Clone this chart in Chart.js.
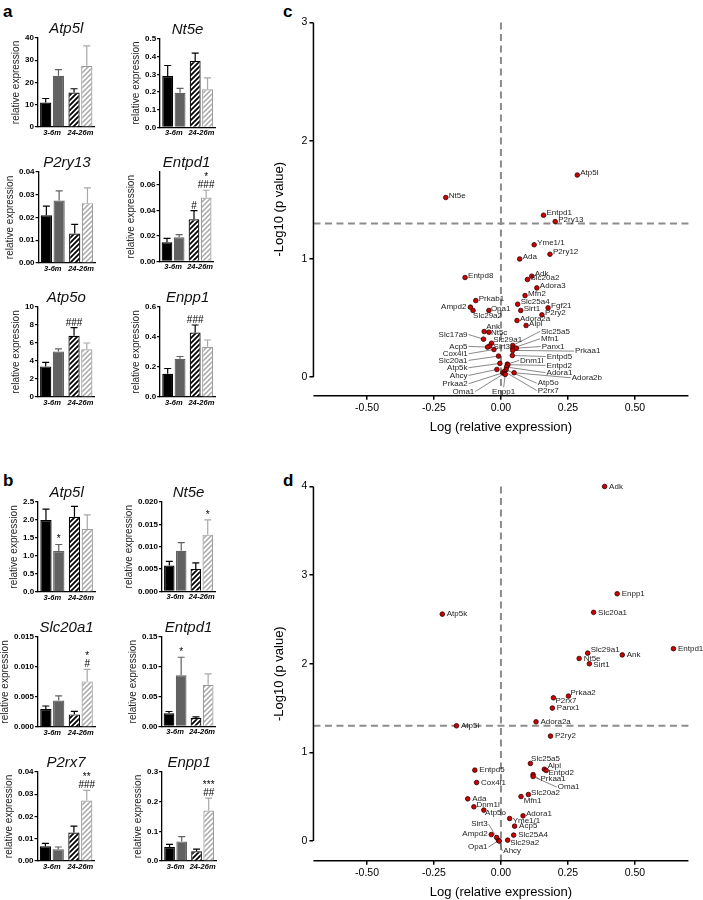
<!DOCTYPE html>
<html>
<head>
<meta charset="utf-8">
<script src="https://cdn.jsdelivr.net/npm/chart.js@4.4.0/dist/chart.umd.min.js"></script>
<style>
  html, body { margin: 0; padding: 0; background: #fff; overflow: hidden; }
  #fig { position: relative; width: 703px; height: 900px; font-family: "Liberation Sans", Arial, sans-serif; }
  #fig canvas { position: absolute; }
  .tag { position: absolute; font-weight: bold; font-size: 17px; color: #000; line-height: 1; }
</style>
</head>
<body>
<div id="fig">
  <div class="tag" style="left:3px;top:3px">a</div>
  <div class="tag" style="left:3px;top:472px">b</div>
  <div class="tag" style="left:283px;top:3px">c</div>
  <div class="tag" style="left:283px;top:472px">d</div>
</div>
<script>
const FONT = '"Liberation Sans", Arial, sans-serif';
Chart.defaults.font.family = FONT;
Chart.defaults.color = '#000';

// ---- bar panels: order of bars = [3-6m ctrl, 3-6m treated, 24-26m ctrl, 24-26m treated]
const ageGroups = ['3-6m', '24-26m'];

const aGenes = ['Atp5l', 'Nt5e', 'P2ry13', 'Entpd1', 'Atp5o', 'Enpp1'];
const aMeans = [
  [11, 23, 15.5, 27.5],
  [0.29, 0.195, 0.375, 0.215],
  [0.021, 0.0275, 0.013, 0.0263],
  [0.015, 0.019, 0.033, 0.050],
  [3.4, 5.05, 6.8, 5.3],
  [0.155, 0.255, 0.43, 0.335]
];
const aSem = [
  [1.8, 2.8, 1.7, 9],
  [0.06, 0.025, 0.045, 0.065],
  [0.004, 0.0042, 0.004, 0.0067],
  [0.003, 0.002, 0.0067, 0.0057],
  [0.45, 0.3, 0.9, 0.7],
  [0.035, 0.015, 0.05, 0.045]
];
const aMarks = [
  ['', '', '', ''], ['', '', '', ''], ['', '', '', ''],
  ['', '', '#', '*\n###'], ['', '', '###', ''], ['', '', '###', '']
];
const aYMax = [40, 0.5, 0.04, 0.07, 10, 0.6];
const aYStep = [10, 0.1, 0.01, 0.02, 2, 0.2];
const aYDec = [0, 1, 2, 2, 0, 1];

const bGenes = ['Atp5l', 'Nt5e', 'Slc20a1', 'Entpd1', 'P2rx7', 'Enpp1'];
const bMeans = [
  [2.0, 1.14, 2.09, 1.75],
  [0.0058, 0.0091, 0.0050, 0.0127],
  [0.0030, 0.0044, 0.0021, 0.0076],
  [0.022, 0.086, 0.014, 0.070],
  [0.0066, 0.0053, 0.0128, 0.0272],
  [0.047, 0.066, 0.033, 0.17]
];
const bSem = [
  [0.3, 0.18, 0.29, 0.39],
  [0.0009, 0.0018, 0.0014, 0.0033],
  [0.0005, 0.0008, 0.0005, 0.002],
  [0.003, 0.03, 0.002, 0.018],
  [0.0013, 0.001, 0.0029, 0.0045],
  [0.009, 0.016, 0.007, 0.042]
];
const bMarks = [
  ['', '*', '', ''], ['', '', '', '*'], ['', '', '', '*\n#'],
  ['', '*', '', ''], ['', '', '', '**\n###'], ['', '', '', '***\n##']
];
const bYMax = [2.5, 0.02, 0.015, 0.15, 0.04, 0.3];
const bYStep = [0.5, 0.005, 0.005, 0.05, 0.01, 0.1];
const bYDec = [1, 3, 3, 2, 2, 1];

// ---- volcano panels
const pThreshold = 1.3;
const xTicks = [-0.5, -0.25, 0, 0.25, 0.5];

const cGenes = ['Atp5l', 'Nt5e', 'Entpd1', 'P2ry13', 'Yme1/1', 'P2ry12', 'Ada', 'Entpd8', 'Adk', 'Slc20a2',
  'Adora3', 'Mfn2', 'Prkab1', 'Slc25a4', 'Fgf21', 'Ampd2', 'Opa1', 'Slc29a2', 'Sirt1', 'P2ry2',
  'Adora2a', 'Alpl', 'Ank', 'Nt5c', 'Slc17a9', 'Slc29a1', 'Sirt3', 'Acp5', 'Cox4i1', 'Slc25a5',
  'Mfn1', 'Panx1', 'Prkaa1', 'Entpd5', 'Slc20a1', 'Dnm1l', 'Atp5k', 'Entpd2', 'Adora1', 'Ahcy',
  'Adora2b', 'Atp5o', 'Prkaa2', 'P2rx7', 'Oma1', 'Enpp1'];
const cLogFC = [0.285, -0.206, 0.159, 0.2025, 0.124, 0.183, 0.070, -0.134, 0.115, 0.099,
  0.134, 0.090, -0.094, 0.0625, 0.176, -0.114, -0.045, -0.104, 0.074, 0.153,
  0.060, 0.094, -0.0625, -0.045, -0.065, -0.035, -0.0425, -0.050, -0.026, 0.044,
  0.044, 0.0575, 0.044, 0.0425, -0.009, 0.024, -0.004, 0.026, 0.021, -0.015,
  0.049, 0.019, 0.0075, 0.0125, 0.0125, 0.016];
const cNegLogP = [1.71, 1.52, 1.37, 1.316, 1.12, 1.04, 1.00, 0.843, 0.854, 0.826,
  0.755, 0.690, 0.648, 0.617, 0.586, 0.592, 0.564, 0.564, 0.564, 0.527,
  0.479, 0.437, 0.386, 0.380, 0.321, 0.287, 0.262, 0.254, 0.234, 0.268,
  0.245, 0.245, 0.226, 0.183, 0.178, 0.110, 0.116, 0.105, 0.085, 0.065,
  0.037, 0.062, 0.037, 0.048, 0.031, 0.023];
const cYTicks = [0, 1, 2, 3];

const dGenes = ['Adk', 'Enpp1', 'Slc20a1', 'Atp5k', 'Entpd1', 'Slc29a1', 'Ank', 'Nt5e', 'Sirt1', 'Prkaa2',
  'P2rx7', 'Panx1', 'Adora2a', 'Atp5l', 'P2ry2', 'Slc25a5', 'Alpl', 'Entpd2', 'Entpd5', 'Prkaa1',
  'Oma1', 'Cox4i1', 'Slc20a2', 'Mfn1', 'Ada', 'Dnm1l', 'Atp5o', 'Adora1', 'Yme1/1', 'Acp5',
  'Slc25A4', 'Ampd2', 'Sirt3', 'Opa1', 'Slc29a2', 'Ahcy'];
const dLogFC = [0.387, 0.434, 0.346, -0.219, 0.644, 0.324, 0.453, 0.292, 0.330, 0.252,
  0.196, 0.192, 0.131, -0.166, 0.185, 0.110, 0.162, 0.169, -0.0975, 0.120,
  0.120, -0.091, 0.1025, 0.075, -0.124, -0.101, -0.064, 0.0825, 0.0325, 0.051,
  0.0475, -0.036, -0.016, -0.009, 0.025, -0.006];
const dNegLogP = [4.00, 2.79, 2.58, 2.56, 2.17, 2.12, 2.10, 2.06, 2.00, 1.635,
  1.616, 1.50, 1.345, 1.30, 1.184, 0.875, 0.81, 0.796, 0.80, 0.75,
  0.728, 0.66, 0.525, 0.502, 0.476, 0.386, 0.349, 0.284, 0.254, 0.168,
  0.067, 0.073, 0.04, 0.006, 0.01, 0.0];
const dYTicks = [0, 1, 2, 3, 4];

// label placement (pixel offset from the point, text align, leader line)
const cLabelDefault = [3, -2, 'left'];
const cLabelPos = {
  'Ampd2': [-4, 0, 'right'], 'Slc29a2': [0, 5, 'left'], 'Ank': [2, -4.5, 'left'],
  'Nt5c': [2, 1, 'left'], 'Slc29a1': [1.6, -3.4, 'left'], 'Sirt3': [4, 1, 'left'], 'Opa1': [2, -1.7, 'left'],
  'Slc17a9': [-16, -4.7, 'right', true], 'Acp5': [-20, -0.7, 'right', true], 'Cox4i1': [-26.3, 4.3, 'right', true],
  'Slc20a1': [-31, 4.3, 'right', true], 'Atp5k': [-32.3, 4.3, 'right', true], 'Ahcy': [-29.3, 6, 'right', true],
  'Prkaa2': [-35.3, 11, 'right', true], 'Oma1': [-30, 18, 'right', true], 'Enpp1': [-1.6, 17, 'center', true],
  'Slc25a5': [28.3, -14, 'left', true], 'Mfn1': [28.3, -9.4, 'left', true], 'Panx1': [25.4, -1.7, 'left', true],
  'Prkaa1': [62.3, 0.7, 'left', true], 'Entpd5': [34.4, 1, 'left', true], 'Dnm1l': [12.7, -3.7, 'left', true],
  'Entpd2': [38.7, 0.7, 'left', true], 'Adora1': [40, 5.6, 'left', true], 'Adora2b': [57.7, 5, 'left', true],
  'Atp5o': [31.7, 13.4, 'left', true], 'P2rx7': [33.4, 19, 'left', true]
};
const dLabelDefault = [4.5, 0, 'left'];
const dLabelPos = {
  'Slc29a1': [3, -3, 'left'], 'Sirt1': [4, 1.5, 'left'], 'P2rx7': [2, 3.3, 'left'], 'Prkaa2': [2, -3.3, 'left'],
  'Slc25a5': [0.7, -5, 'left'], 'Alpl': [3.4, -3.3, 'left'], 'Entpd2': [2.3, 2.6, 'left'],
  'Prkaa1': [7.3, 4.6, 'left', true], 'Oma1': [24.7, 10.6, 'left', true], 'Slc20a2': [2.7, -1.4, 'left'],
  'Mfn1': [2.7, 4, 'left'], 'Sirt3': [-9, -13.4, 'right', true], 'Ampd2': [-3.6, -0.7, 'right'],
  'Opa1': [-11, 6.6, 'right', true], 'Ahcy': [4, 10, 'left', true], 'Atp5o': [1.3, 2.4, 'left'],
  'Dnm1l': [2.7, -2.3, 'left'], 'Yme1/1': [3, 2.6, 'left'], 'Adora1': [3, -2, 'left'], 'Slc29a2': [2.6, 2.4, 'left']
};

// plot-area boxes [axis x, top, width, height]
const aBoxes = [[38.3, 38.3, 56.7, 89], [160, 39, 55, 88.3], [38.3, 172.3, 56.7, 91], [160, 172.3, 54, 89.4],
  [38.3, 306.7, 56.7, 90], [160, 306.7, 55, 90]];
const bBoxes = [[37.7, 502.3, 57, 90], [162.3, 502.3, 53, 89.4], [37.7, 637.3, 57, 90], [161.7, 637.3, 54, 89.4],
  [37.7, 771.7, 57, 89], [161.7, 771.7, 54, 89]];

const fig = document.getElementById('fig');

function hatch(color, width) {
  const t = document.createElement('canvas');
  t.width = t.height = 5;
  const g = t.getContext('2d');
  g.fillStyle = '#fff';
  g.fillRect(0, 0, 5, 5);
  g.strokeStyle = color;
  g.lineWidth = width;
  g.beginPath();
  g.moveTo(0, 5); g.lineTo(5, 0);
  g.moveTo(-1, 1); g.lineTo(1, -1);
  g.moveTo(4, 6); g.lineTo(6, 4);
  g.stroke();
  return g.createPattern(t, 'repeat');
}
const HATCH_DARK = hatch('#000', 1.8);
const HATCH_LIGHT = hatch('#a6a6a6', 1.5);
const GRAY = '#616161';

// error bars + significance marks
const errBars = {
  id: 'errBars',
  afterDatasetsDraw(chart) {
    const { ctx, scales: { y } } = chart;
    chart.data.datasets.forEach((ds, i) => {
      chart.getDatasetMeta(i).data.forEach((bar, j) => {
        const top = y.getPixelForValue(ds.data[j] + ds.sem[j]);
        ctx.save();
        ctx.strokeStyle = ds.errColor[j];
        ctx.lineWidth = 1.2;
        ctx.beginPath();
        ctx.moveTo(bar.x, bar.y); ctx.lineTo(bar.x, top);
        ctx.moveTo(bar.x - 3.5, top); ctx.lineTo(bar.x + 3.5, top);
        ctx.stroke();
        const lines = ds.marks[j] ? ds.marks[j].split('\n').reverse() : [];
        ctx.fillStyle = '#000';
        ctx.font = '10px ' + FONT;
        ctx.textAlign = 'center';
        ctx.textBaseline = 'alphabetic';
        lines.forEach((s, k) => ctx.fillText(s, bar.x, top - 2 - k * 8));
        ctx.restore();
      });
    });
  }
};

// fit the plot area to a box, then move the canvas so the area lands on it
function place(chart, pad, box, growTop) {
  for (let k = 0; k < 4; k++) {
    const a = chart.chartArea;
    pad.right += (a.right - a.left) - box[2];
    if (growTop) pad.top += (a.bottom - a.top) - box[3];
    else pad.bottom += (a.bottom - a.top) - box[3];
    chart.update('none');
  }
  const a = chart.chartArea;
  chart.canvas.style.left = (box[0] - a.left) + 'px';
  chart.canvas.style.top = (box[1] - a.top) + 'px';
}

function barChart(gene, means, sem, marks, yMax, yStep, yDec, box) {
  const cv = document.createElement('canvas');
  cv.width = 180; cv.height = 160;
  fig.appendChild(cv);
  const pad = { top: 0, right: 20, bottom: 0, left: 0 };
  const chart = new Chart(cv, {
    type: 'bar',
    data: {
      labels: ageGroups,
      datasets: [
        { data: [means[0], means[2]], sem: [sem[0], sem[2]], marks: [marks[0], marks[2]],
          backgroundColor: ['#000', HATCH_DARK], borderColor: ['#000', '#000'],
          errColor: ['#000', '#000'], borderWidth: 1.2 },
        { data: [means[1], means[3]], sem: [sem[1], sem[3]], marks: [marks[1], marks[3]],
          backgroundColor: [GRAY, HATCH_LIGHT], borderColor: [GRAY, '#9c9c9c'],
          errColor: [GRAY, '#a8a8a8'], borderWidth: 1.2 }
      ]
    },
    options: {
      responsive: false,
      animation: false,
      devicePixelRatio: 1,
      layout: { padding: pad },
      datasets: { bar: { categoryPercentage: 0.9, barPercentage: 0.88 } },
      plugins: {
        legend: { display: false },
        tooltip: { enabled: false },
        title: {
          display: true, text: gene, fullSize: false, color: '#111',
          font: { size: 15, style: 'italic', weight: 'normal' },
          padding: { top: 0, bottom: 0 }
        }
      },
      scales: {
        x: {
          grid: { display: false, drawTicks: false },
          border: { color: '#000', width: 1.3 },
          ticks: { color: '#000', padding: 1, maxRotation: 0, autoSkip: false,
                   font: { size: 7.5, weight: 'bold', style: 'italic' } }
        },
        y: {
          min: 0, max: yMax,
          afterBuildTicks: s => {
            const t = [];
            for (let k = 0; k * yStep <= yMax + 1e-9; k++) t.push({ value: +(k * yStep).toFixed(6) });
            s.ticks = t;
          },
          grid: { drawOnChartArea: false, tickLength: 3, color: '#000', lineWidth: 1.2 },
          border: { color: '#000', width: 1.3 },
          ticks: { color: '#000', padding: 1, font: { size: 8, weight: 'bold' }, callback: v => v.toFixed(yDec) },
          title: { display: true, text: 'relative expression', color: '#222', font: { size: 10 }, padding: { top: 0, bottom: 2 } }
        }
      }
    },
    plugins: [errBars]
  });
  place(chart, pad, box, false);
}

function volcanoDecor(genes, labelPos, labelDefault, yTop) {
  const spec = g => labelPos[g] || labelDefault;
  return {
    id: 'volcanoDecor',
    beforeDatasetsDraw(chart) {
      const { ctx, chartArea: a, scales: { x, y } } = chart;
      ctx.save();
      ctx.strokeStyle = '#8c8c8c';
      ctx.lineWidth = 2;
      ctx.setLineDash([7, 4.5]);
      ctx.beginPath();
      const x0 = x.getPixelForValue(0);
      ctx.moveTo(x0, y.getPixelForValue(yTop)); ctx.lineTo(x0, a.bottom);
      const yt = y.getPixelForValue(pThreshold);
      ctx.moveTo(a.left, yt); ctx.lineTo(a.right, yt);
      ctx.stroke();
      ctx.setLineDash([]);
      ctx.strokeStyle = '#000';
      ctx.lineWidth = 1.5;
      ctx.beginPath();
      ctx.moveTo(a.left, y.getPixelForValue(yTop)); ctx.lineTo(a.left, y.getPixelForValue(0));
      ctx.moveTo(a.left, a.bottom); ctx.lineTo(a.right, a.bottom);
      ctx.stroke();
      // leader lines
      const pts = chart.getDatasetMeta(0).data;
      ctx.strokeStyle = '#555';
      ctx.lineWidth = 0.7;
      genes.forEach((g, i) => {
        const [dx, dy, align, leader] = spec(g);
        if (!leader) return;
        const px = pts[i].x, py = pts[i].y;
        let ex = px + dx, ey = py + dy;
        if (align === 'left') ex -= 1;
        else if (align === 'right') ex += 1;
        else ey -= 4;
        ctx.beginPath(); ctx.moveTo(px, py); ctx.lineTo(ex, ey); ctx.stroke();
      });
      ctx.restore();
    },
    afterDatasetsDraw(chart) {
      const { ctx } = chart;
      const pts = chart.getDatasetMeta(0).data;
      ctx.save();
      ctx.font = '8px ' + FONT;
      ctx.fillStyle = '#222';
      ctx.textBaseline = 'middle';
      genes.forEach((g, i) => {
        const [dx, dy, align] = spec(g);
        ctx.textAlign = align;
        ctx.fillText(g, pts[i].x + dx, pts[i].y + dy);
      });
      ctx.restore();
    }
  };
}

function volcano(genes, fc, nlp, yTicks, yMin, labelPos, labelDefault, box) {
  const cv = document.createElement('canvas');
  cv.width = 460; cv.height = 470;
  fig.appendChild(cv);
  const pad = { top: 0, right: 20, bottom: 0, left: 0 };
  const yTop = yTicks[yTicks.length - 1];
  const chart = new Chart(cv, {
    type: 'scatter',
    data: {
      datasets: [{
        data: genes.map((g, i) => ({ x: fc[i], y: nlp[i] })),
        pointRadius: 2.3,
        pointBackgroundColor: '#d00000',
        pointBorderColor: '#2a0000',
        pointBorderWidth: 0.8,
        clip: false
      }]
    },
    options: {
      responsive: false,
      animation: false,
      devicePixelRatio: 1,
      layout: { padding: pad },
      plugins: { legend: { display: false }, tooltip: { enabled: false } },
      scales: {
        x: {
          type: 'linear', min: -0.7, max: 0.7,
          afterBuildTicks: s => { s.ticks = xTicks.map(v => ({ value: v })); },
          grid: { drawOnChartArea: false, tickLength: 4, color: '#000', lineWidth: 1.5 },
          border: { display: false },
          ticks: { color: '#000', padding: 2, font: { size: 10.5 }, callback: v => v.toFixed(2) },
          title: { display: true, text: 'Log (relative expression)', color: '#000', font: { size: 13 }, padding: { top: 3, bottom: 0 } }
        },
        y: {
          min: yMin, max: yTop,
          afterBuildTicks: s => { s.ticks = yTicks.map(v => ({ value: v })); },
          grid: { drawOnChartArea: false, tickLength: 4, color: '#000', lineWidth: 1.5 },
          border: { display: false },
          ticks: { color: '#000', padding: 2, font: { size: 10.5 }, callback: v => String(v) },
          title: { display: true, text: '-Log10 (p value)', color: '#000', font: { size: 13 }, padding: { top: 1, bottom: 12 } }
        }
      }
    },
    plugins: [volcanoDecor(genes, labelPos, labelDefault, yTop)]
  });
  place(chart, pad, box, true);
}

aGenes.forEach((g, i) => barChart(g, aMeans[i], aSem[i], aMarks[i], aYMax[i], aYStep[i], aYDec[i], aBoxes[i]));
bGenes.forEach((g, i) => barChart(g, bMeans[i], bSem[i], bMarks[i], bYMax[i], bYStep[i], bYDec[i], bBoxes[i]));
volcano(cGenes, cLogFC, cNegLogP, cYTicks, -0.158, cLabelPos, cLabelDefault, [313, 22.5, 375, 373.2]);
volcano(dGenes, dLogFC, dNegLogP, dYTicks, -0.223, dLabelPos, dLabelDefault, [313, 486.7, 375, 374.3]);
</script>
</body>
</html>
